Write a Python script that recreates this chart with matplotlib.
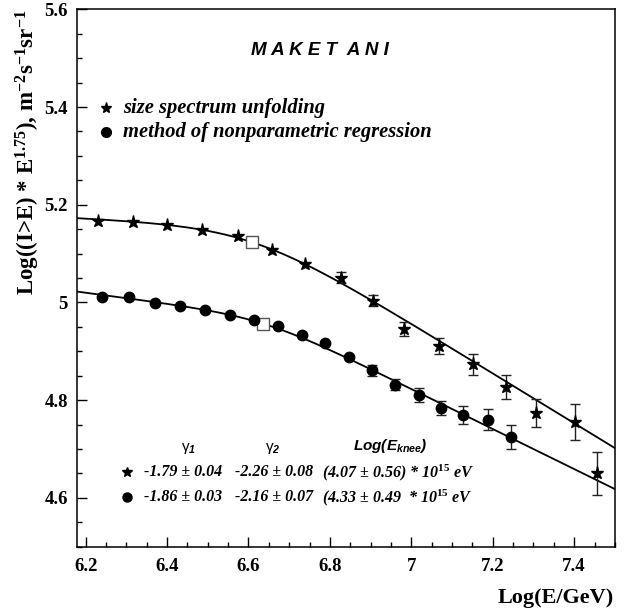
import numpy as np
import matplotlib
matplotlib.use("Agg")
import matplotlib.pyplot as plt
from matplotlib.ticker import MultipleLocator, FuncFormatter

plt.rcParams['mathtext.fontset'] = 'custom'
plt.rcParams['mathtext.rm'] = 'Liberation Serif:bold'
plt.rcParams['mathtext.it'] = 'Liberation Serif:bold:italic'
plt.rcParams['mathtext.bf'] = 'Liberation Serif:bold'
plt.rcParams['mathtext.sf'] = 'Liberation Sans:bold:italic'

# ---------------- data ----------------
# size spectrum unfolding (stars)
star_logE = [6.230, 6.316, 6.400, 6.487, 6.574, 6.657, 6.740, 6.828, 6.906,
             6.983, 7.068, 7.152, 7.233, 7.307, 7.403, 7.456]
star_val = [5.167, 5.165, 5.159, 5.148, 5.136, 5.108, 5.078, 5.051, 5.004,
            4.946, 4.911, 4.873, 4.827, 4.774, 4.756, 4.650]
star_err = [0.0, 0.0, 0.0, 0.0, 0.0, 0.0, 0.0, 0.011, 0.012,
            0.014, 0.017, 0.021, 0.0245, 0.029, 0.037, 0.044]

# method of nonparametric regression (circles)
circ_logE = [6.241, 6.306, 6.370, 6.432, 6.493, 6.554, 6.614, 6.672, 6.731,
             6.789, 6.846, 6.904, 6.961, 7.018, 7.074, 7.128, 7.188, 7.244]
circ_val = [5.011, 5.011, 4.999, 4.992, 4.985, 4.975, 4.964, 4.951, 4.933,
            4.916, 4.889, 4.861, 4.832, 4.810, 4.784, 4.770, 4.760, 4.724]
circ_err = [0.0, 0.0, 0.0, 0.0, 0.0, 0.0, 0.0, 0.0, 0.0,
            0.0, 0.0, 0.011, 0.012, 0.014, 0.015, 0.018, 0.021, 0.0245]

# fit parameters (table in the chart) + normalisation / knee sharpness
star_gamma1, star_gamma2, star_knee_eV = -1.79, -2.26, 4.07e15
circ_gamma1, circ_gamma2, circ_knee_eV = -1.86, -2.16, 4.33e15
star_norm, star_sharp = 5.156, 4.3
circ_norm, circ_sharp = 4.972, 5.8
spectrum_weight = 1.75

x_ticks = [6.2, 6.4, 6.6, 6.8, 7.0, 7.2, 7.4]
y_ticks = [4.6, 4.8, 5.0, 5.2, 5.4, 5.6]


def knee_curve(x, norm, g1, g2, knee_eV, eps):
    xk = np.log10(knee_eV / 1e9)
    d = x - xk
    s1, s2 = g1 + spectrum_weight, g2 + spectrum_weight
    return norm + s2 * d + (s2 - s1) / eps * np.log10(1 + 10 ** (-eps * d))


# ---------------- figure ----------------
fig = plt.figure(figsize=(6.3, 6.12), dpi=100)
ax = fig.add_axes([0.123, 0.1067, 0.853, 0.878])
ax.set_xlim(6.18, 7.5)
ax.set_ylim(4.5, 5.6)

xs = np.linspace(6.18, 7.5, 400)
for norm, g1, g2, kn, eps in [(star_norm, star_gamma1, star_gamma2, star_knee_eV, star_sharp),
                              (circ_norm, circ_gamma1, circ_gamma2, circ_knee_eV, circ_sharp)]:
    ax.plot(xs, knee_curve(xs, norm, g1, g2, kn, eps), color='black', lw=1.3, zorder=2)
    xk = np.log10(kn / 1e9)
    ax.plot([xk], [knee_curve(xk, norm, g1, g2, kn, eps)], marker='s', ms=8.5,
            mfc='white', mec='#555555', mew=1.0, ls='none', zorder=4)

se = np.array(star_err)
m = se > 0
ax.errorbar(np.array(star_logE)[m], np.array(star_val)[m], yerr=se[m], fmt='none',
            ecolor='#222222', elinewidth=1.0, capsize=3.3, capthick=1.0, zorder=3)
ce = np.array(circ_err)
m = ce > 0
ax.errorbar(np.array(circ_logE)[m], np.array(circ_val)[m], yerr=ce[m], fmt='none',
            ecolor='#222222', elinewidth=1.0, capsize=3.3, capthick=1.0, zorder=3)

ax.plot(star_logE, star_val, ls='none', marker='*', ms=9.5, color='black', zorder=5)
ax.plot(circ_logE, circ_val, ls='none', marker='o', ms=7.5, color='black', zorder=5)

# axes styling
for s in ax.spines.values():
    s.set_linewidth(1.1)
ax.xaxis.set_minor_locator(MultipleLocator(0.05))
ax.yaxis.set_minor_locator(MultipleLocator(0.05))
ax.set_xticks(x_ticks)
ax.set_yticks(y_ticks)
fmt = FuncFormatter(lambda v, p: f'{v:g}')
ax.xaxis.set_major_formatter(fmt)
ax.yaxis.set_major_formatter(fmt)
ax.tick_params(which='both', direction='in', top=False, right=False, width=1.0)
ax.tick_params(which='major', length=7, labelsize=13.5)
ax.tick_params(which='minor', length=3.5)
ax.tick_params(axis='x', pad=8)
ax.tick_params(axis='y', pad=7)
for lab in ax.get_xticklabels() + ax.get_yticklabels():
    lab.set_family('Liberation Serif')
    lab.set_fontweight('bold')

ax.set_ylabel(r'Log((I>E) * E$^{1.75}$), m$^{-2}$s$^{-1}$sr$^{-1}$', loc='top',
              family='Liberation Serif', fontweight='bold', fontsize=16.5)
ax.yaxis.set_label_coords(-0.066, 1.0)
fig.text(614 / 630, 1 - 598 / 612, 'Log(E/GeV)', ha='right', va='center',
         family='Liberation Serif', fontweight='bold', fontsize=16)

# title
ax.text(6.775, 5.515, 'M A K E T  A N I', ha='center', va='center',
        family='Liberation Sans', fontweight='bold', style='italic', fontsize=13.5)

# legend
ax.plot([6.251], [5.399], marker='*', ms=8, color='black', ls='none', clip_on=False)
ax.plot([6.251], [5.349], marker='o', ms=7, color='black', ls='none', clip_on=False)
ax.text(6.293, 5.399, 'size spectrum unfolding', ha='left', va='center',
        family='Liberation Serif', fontweight='bold', style='italic', fontsize=14.8)
ax.text(6.293, 5.349, 'method of nonparametric regression', ha='left', va='center',
        family='Liberation Serif', fontweight='bold', style='italic', fontsize=14.8)

# parameter table
hdr = dict(ha='center', va='center', family='Liberation Sans', fontsize=11)
ax.text(6.454, 4.701, r'γ$_{\mathsf{1}}$', **hdr)
ax.text(6.660, 4.701, r'γ$_{\mathsf{2}}$', **hdr)
ax.text(6.949, 4.706, r'Log(E$_{\mathsf{knee}}$)', fontweight='bold', style='italic', **hdr)

row = dict(ha='left', va='center', family='Liberation Serif', fontweight='bold',
           style='italic', fontsize=11.5)
ax.plot([6.302], [4.652], marker='*', ms=7, color='black', ls='none')
ax.plot([6.302], [4.601], marker='o', ms=6.5, color='black', ls='none')
ax.text(6.344, 4.652, f'{star_gamma1:.2f} ± 0.04', **row)
ax.text(6.567, 4.652, f'{star_gamma2:.2f} ± 0.08', **row)
ax.text(6.780, 4.652, r'(4.07 ± 0.56) * 10$^{\mathit{15}}$ eV', **row)
ax.text(6.344, 4.601, f'{circ_gamma1:.2f} ± 0.03', **row)
ax.text(6.567, 4.601, f'{circ_gamma2:.2f} ± 0.07', **row)
ax.text(6.780, 4.601, r'(4.33 ± 0.49  * 10$^{\mathit{15}}$ eV', **row)

fig.savefig('out.png', dpi=100)
